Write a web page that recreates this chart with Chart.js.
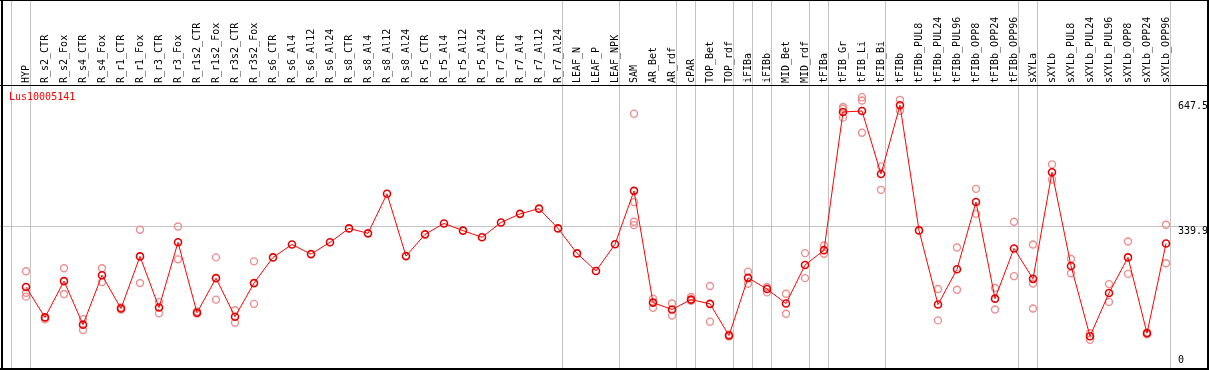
<!DOCTYPE html>
<html>
<head>
<meta charset="utf-8">
<script src="https://cdn.jsdelivr.net/npm/chart.js@4/dist/chart.umd.min.js"></script>
<style>
  html, body { margin: 0; padding: 0; background: #fff; }
  #chart { display: block; }
</style>
</head>
<body>
<canvas id="chart" width="1209" height="370"></canvas>
<script>
const geneName = 'Lus10005141';

const categories = [
  'HYP', 'R_s2_CTR', 'R_s2_Fox', 'R_s4_CTR', 'R_s4_Fox', 'R_r1_CTR', 'R_r1_Fox', 'R_r3_CTR', 'R_r3_Fox',
  'R_r1s2_CTR', 'R_r1s2_Fox', 'R_r3s2_CTR', 'R_r3s2_Fox', 'R_s6_CTR', 'R_s6_Al4', 'R_s6_Al12', 'R_s6_Al24',
  'R_s8_CTR', 'R_s8_Al4', 'R_s8_Al12', 'R_s8_Al24', 'R_r5_CTR', 'R_r5_Al4', 'R_r5_Al12', 'R_r5_Al24',
  'R_r7_CTR', 'R_r7_Al4', 'R_r7_Al12', 'R_r7_Al24', 'LEAF_N', 'LEAF_P', 'LEAF_NPK', 'SAM', 'AR_Bet', 'AR_rdf',
  'cPAR', 'TOP_Bet', 'TOP_rdf', 'iFIBa', 'iFIBb', 'MID_Bet', 'MID_rdf', 'tFIBa', 'tFIB_Gr', 'tFIB_Li', 'tFIB_Bi',
  'tFIBb', 'tFIBb_PUL8', 'tFIBb_PUL24', 'tFIBb_PUL96', 'tFIBb_OPP8', 'tFIBb_OPP24', 'tFIBb_OPP96',
  'sXYLa', 'sXYLb', 'sXYLb_PUL8', 'sXYLb_PUL24', 'sXYLb_PUL96', 'sXYLb_OPP8', 'sXYLb_OPP24', 'sXYLb_OPP96'
];

// mean expression per sample
const meanValues = [
  190.7, 115.9, 205.4, 98.0, 220.0, 137.8, 266.3, 140.2, 301.2,
  127.3, 212.7, 117.6, 200.5, 263.9, 295.6, 272.0, 301.2,
  335.4, 323.2, 420.7, 267.1, 320.7, 347.6, 329.8, 313.4,
  350.0, 371.2, 384.1, 335.4, 273.7, 230.5, 296.3, 428.0, 152.4, 135.4,
  159.8, 149.3, 71.2, 213.4, 185.9, 150.0, 245.1, 281.7, 622.4, 624.9, 469.5,
  639.0, 330.5, 147.6, 234.6, 400.5, 162.2, 285.9,
  211.0, 473.7, 242.7, 69.5, 176.1, 263.9, 76.8, 298.0
];

// individual replicates per sample
const replicateValues = [
  [229.8, 176.8, 167.1], [115.9, 111.0], [237.1, 173.7], [111.7, 84.9], [237.1, 202.9], [140.2, 135.4],
  [332.2, 200.5], [154.1, 126.3], [340.2, 259.0], [130.5, 125.6], [263.9, 159.8], [133.7, 102.9],
  [254.1, 149.3], [], [], [], [], [], [], [], [], [], [], [], [], [], [], [], [], [], [], [],
  [618.3, 400.5, 351.7, 343.4], [162.2, 139.5], [150.0, 120.7], [166.3, 156.6], [193.2, 105.4], [73.0, 69.0],
  [228.8, 198.8], [190.7, 177.6], [174.4, 124.9], [274.4, 212.7], [293.2, 272.7],
  [634.6, 630.5, 608.5], [659.0, 650.7, 571.2], [488.3, 430.5], [652.4, 625.6], [],
  [185.9, 108.5], [288.3, 184.1], [432.9, 371.2], [188.3, 135.4], [351.7, 217.6],
  [295.6, 199.5, 137.8], [493.2, 455.6], [259.8, 224.9], [76.8, 60.5], [198.0, 154.1],
  [302.9, 223.2], [79.0, 74.0], [344.4, 249.3]
];

const yTickValues = [0, 339.9, 647.5];
const yGridValues = [339.9];
// sample groups end after these indices (vertical separators)
const groupEnds = [-1, 0, 28, 31, 34, 35, 37, 38, 39, 41, 42, 45, 52, 53, 60];

const repPoints = [];
replicateValues.forEach((reps, i) => reps.forEach(v => repPoints.push({ x: categories[i], y: v })));

const MONO = '"DejaVu Sans Mono", "Liberation Mono", monospace';

const framePlugin = {
  id: 'frame',
  beforeDatasetsDraw(chart) {
    const { ctx, width, height } = chart;
    const xs = chart.scales.x, ys = chart.scales.y;
    const step = xs.getPixelForValue(1) - xs.getPixelForValue(0);
    ctx.save();
    ctx.strokeStyle = '#c4c4c4';
    ctx.lineWidth = 1;
    groupEnds.forEach(i => {
      const x = Math.floor(xs.getPixelForValue(i) + step * 0.24) + 0.5;
      ctx.beginPath(); ctx.moveTo(x, 0); ctx.lineTo(x, height); ctx.stroke();
    });
    yGridValues.forEach(v => {
      const y = Math.floor(ys.getPixelForValue(v)) + 0.5;
      ctx.beginPath(); ctx.moveTo(0, y); ctx.lineTo(width, y); ctx.stroke();
    });
    ctx.restore();
  },
  afterDraw(chart) {
    const { ctx, width, height, chartArea } = chart;
    const xs = chart.scales.x, ys = chart.scales.y;
    ctx.save();
    ctx.fillStyle = '#000';
    ctx.fillRect(0, 0, width, 1);
    ctx.fillRect(0, chartArea.top, width, 1);
    ctx.fillRect(1, 0, 2, height);
    ctx.fillRect(width - 2, 0, 2, height);
    ctx.fillRect(0, height - 2, width, 2);

    ctx.font = '10px ' + MONO;

    // sample names, rotated, along the top axis
    xs.getLabels().forEach((lab, i) => {
      ctx.save();
      ctx.translate(Math.round(xs.getPixelForValue(i)) + 0.5, chartArea.top - 2);
      ctx.rotate(-Math.PI / 2);
      ctx.textAlign = 'left';
      ctx.textBaseline = 'middle';
      ctx.fillText(lab, 0, 0);
      ctx.restore();
    });

    ctx.textAlign = 'left';
    ctx.textBaseline = 'top';
    yTickValues.forEach(v => {
      const y = Math.min(ys.getPixelForValue(v), chartArea.bottom - 9);
      ctx.fillText(String(v), chartArea.right + 2.5, y);
    });

    ctx.fillStyle = '#ff0000';
    ctx.fillText(geneName, 9, chartArea.top + 7);
    ctx.restore();
  }
};

new Chart(document.getElementById('chart'), {
  type: 'line',
  data: {
    labels: categories,
    datasets: [
      {
        label: 'mean',
        data: meanValues,
        borderColor: '#ff0000',
        borderWidth: 1,
        tension: 0,
        pointStyle: 'circle',
        pointRadius: 3.5,
        pointBorderWidth: 1.6,
        pointBorderColor: '#e60000',
        pointBackgroundColor: 'rgba(0,0,0,0)',
        order: 0
      },
      {
        label: 'replicates',
        data: repPoints,
        showLine: false,
        pointStyle: 'circle',
        pointRadius: 3.5,
        pointBorderWidth: 1.4,
        pointBorderColor: 'rgb(238,142,142)',
        pointBackgroundColor: 'rgba(0,0,0,0)',
        order: 1
      }
    ]
  },
  options: {
    responsive: false,
    animation: false,
    layout: { padding: { left: 16.5, right: 33.5, top: 0, bottom: 2.5 } },
    plugins: { legend: { display: false }, tooltip: { enabled: false } },
    scales: {
      x: {
        type: 'category',
        position: 'top',
        offset: true,
        grid: { display: false, drawTicks: false },
        border: { display: false },
        afterFit(scale) { scale.height = 85; },
        ticks: { display: false }
      },
      y: {
        display: false,
        min: 0,
        max: 689
      }
    }
  },
  plugins: [framePlugin]
});
</script>
</body>
</html>
